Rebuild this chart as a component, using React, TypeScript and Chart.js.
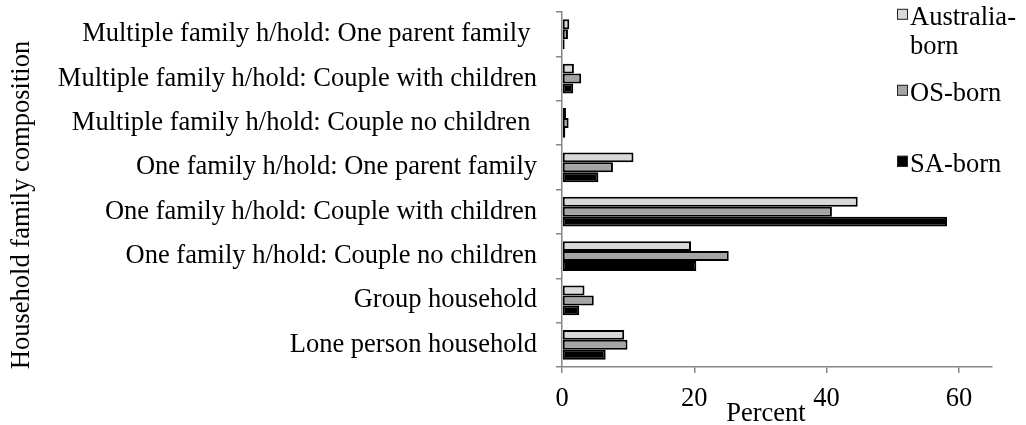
import React, { useEffect, useRef } from "react";
import { Chart, registerables } from "chart.js";

Chart.register(...registerables);

const categories = [
  "Multiple family h/hold: One parent family ",
  "Multiple family h/hold: Couple with children",
  "Multiple family h/hold: Couple no children ",
  "One family h/hold: One parent family",
  "One family h/hold: Couple with children",
  "One family h/hold: Couple no children",
  "Group household",
  "Lone person household",
];

const seriesNames = ["Australia-born", "OS-born", "SA-born"];
const australiaBorn = [1.1, 1.8, 0.6, 10.8, 44.7, 19.5, 3.4, 9.4];
const osBorn = [0.9, 2.9, 1.0, 7.7, 40.8, 25.2, 4.8, 9.9];
const saBorn = [0.4, 1.7, 0.5, 5.5, 58.2, 20.3, 2.6, 6.6];
const xTicks = [0, 20, 40, 60];
const xMax = 65;
const xTitle = "Percent";
const yTitle = "Household family composition";

const FONT_FAMILY = '"Liberation Serif", "Times New Roman", serif';
const FONT_SIZE = 26.5;
const AXIS_COLOR = "#868686";
const fills = ["#d9d9d9", "#a5a5a5", "#000000"];

const decorPlugin = {
  id: "decor",
  afterDraw(chart: any) {
    const ctx = chart.ctx;
    ctx.save();
    ctx.fillStyle = "#000";
    ctx.font = `${FONT_SIZE}px ${FONT_FAMILY}`;

    // x-axis title
    ctx.textAlign = "center";
    ctx.textBaseline = "alphabetic";
    ctx.fillText(xTitle, 766, 421);

    // y-axis title
    ctx.save();
    ctx.translate(22, 205);
    ctx.rotate(-Math.PI / 2);
    ctx.textAlign = "center";
    ctx.textBaseline = "middle";
    ctx.fillText(yTitle, 0, 0);
    ctx.restore();

    // legend
    const baselines = [25, 101, 172];
    const textX = 910;
    const maxW = 1026 - textX - 4;
    chart.data.datasets.forEach((ds: any, i: number) => {
      const base = baselines[i];
      const sq = 11;
      const sqY = base - 10.7 - sq / 2;
      ctx.fillStyle = ds.backgroundColor;
      ctx.fillRect(897, sqY, sq, sq);
      ctx.strokeStyle = "#222";
      ctx.lineWidth = 1;
      ctx.strokeRect(897.5, sqY + 0.5, sq - 1, sq - 1);
      ctx.fillStyle = "#000";
      ctx.font = `${FONT_SIZE}px ${FONT_FAMILY}`;
      ctx.textAlign = "left";
      ctx.textBaseline = "alphabetic";
      const label: string = ds.label;
      let lines = [label];
      if (ctx.measureText(label).width > maxW && label.includes("-")) {
        const k = label.indexOf("-");
        lines = [label.slice(0, k + 1), label.slice(k + 1)];
      }
      lines.forEach((ln, j) => ctx.fillText(ln, textX, base + j * 29));
    });
    ctx.restore();
  },
};

export default function App() {
  const ref = useRef<HTMLCanvasElement | null>(null);

  useEffect(() => {
    if (!ref.current) return;
    const values = [australiaBorn, osBorn, saBorn];
    const chart = new Chart(ref.current, {
      type: "bar",
      data: {
        labels: categories,
        datasets: seriesNames.map((name, i) => ({
          label: name,
          data: values[i],
          backgroundColor: fills[i],
          borderColor: "#000000",
          borderWidth: 2,
          borderSkipped: false,
          categoryPercentage: 0.67,
          barPercentage: 1.0,
        })),
      },
      options: {
        indexAxis: "y",
        responsive: true,
        maintainAspectRatio: false,
        animation: false,
        layout: { padding: { left: 0, top: 12, right: 34, bottom: 0 } },
        plugins: {
          legend: { display: false },
          tooltip: { enabled: false },
        },
        scales: {
          x: {
            type: "linear",
            min: 0,
            max: xMax,
            afterBuildTicks: (scale: any) => {
              scale.ticks = xTicks.map((v) => ({ value: v }));
            },
            afterFit: (scale: any) => {
              scale.height = 58;
              scale.paddingLeft = 0;
              scale.paddingRight = 0;
            },
            grid: {
              drawOnChartArea: false,
              drawTicks: true,
              tickLength: 6,
              color: AXIS_COLOR,
              lineWidth: 1.5,
            },
            border: { display: true, color: AXIS_COLOR, width: 1.5 },
            ticks: {
              color: "#000",
              padding: 10,
              font: { family: FONT_FAMILY, size: FONT_SIZE },
              maxRotation: 0,
            },
          },
          y: {
            type: "category",
            afterFit: (scale: any) => {
              scale.width = 562;
              scale.paddingTop = 0;
              scale.paddingBottom = 0;
            },
            grid: {
              drawOnChartArea: false,
              drawTicks: true,
              tickLength: 6,
              offset: true,
              color: AXIS_COLOR,
              lineWidth: 1.5,
            },
            border: { display: true, color: AXIS_COLOR, width: 1.5 },
            ticks: {
              color: "#000",
              padding: 19,
              font: { family: FONT_FAMILY, size: FONT_SIZE },
              autoSkip: false,
            },
          },
        },
      },
      plugins: [decorPlugin],
    });
    return () => chart.destroy();
  }, []);

  return (
    <div style={{ position: "absolute", left: 0, top: 0, width: 1026, height: 425, background: "#fff" }}>
      <canvas ref={ref} />
    </div>
  );
}
